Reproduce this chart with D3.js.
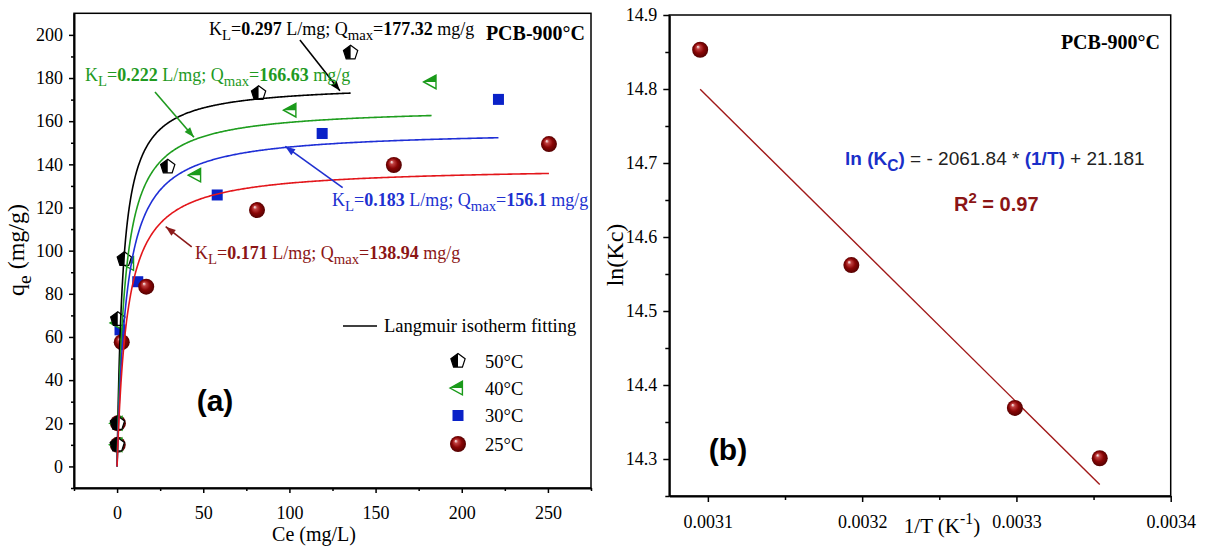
<!DOCTYPE html>
<html>
<head>
<meta charset="utf-8">
<script src="https://cdn.jsdelivr.net/npm/d3@7"></script>
<style>
  html, body { margin: 0; padding: 0; background: #fff; }
  svg { display: block; }
  .serif { font-family: "Liberation Serif", "Times New Roman", Times, serif; }
  .sans { font-family: "Liberation Sans", Arial, Helvetica, sans-serif; }
</style>
</head>
<body>
<svg id="chart" width="1205" height="546"></svg>
<script>
// ---------- Panel (a): Langmuir isotherms of PCB-900°C ----------
const temps = ["50°C", "40°C", "30°C", "25°C"];

// equilibrium concentration Ce (mg/L) and uptake qe (mg/g) per temperature
const ce50 = [0.1, 0.2, 0.4, 4.2, 29.4, 82.1, 135.5];
const qe50 = [10, 20, 68.2, 96, 138.9, 172.9, 191.7];
const ce40 = [0.2, 0.3, 0.6, 7.0, 45.9, 101.2, 182.5];
const qe40 = [10, 20, 66.5, 94, 135, 165.1, 178.2];
const ce30 = [0.3, 0.4, 1.7, 12.0, 58.1, 119.0, 221.3];
const qe30 = [10, 20, 63.3, 85.6, 125.8, 154.3, 170.1];
const ce25 = [0.4, 0.5, 2.7, 16.9, 81.2, 160.6, 250.6];
const qe25 = [10, 20, 57.6, 83.3, 118.8, 139.7, 149.4];

// fitted Langmuir parameters (same order as temps)
const kL = [0.297, 0.222, 0.183, 0.171];
const qMax = [177.32, 166.63, 156.1, 138.94];

const ceTicks = [0, 50, 100, 150, 200, 250];
const ceMinor = [-25, 25, 75, 125, 175, 225, 275];
const qeTicks = [0, 20, 40, 60, 80, 100, 120, 140, 160, 180, 200];
const qeMinor = [-10, 10, 30, 50, 70, 90, 110, 130, 150, 170, 190];

// ---------- Panel (b): van't Hoff plot ----------
const invT = [0.003095, 0.003193, 0.003299, 0.003354];
const lnKc = [14.853, 14.562, 14.369, 14.301];
const vhSlope = -2061.84;
const vhIntercept = 21.181;
const vhR2 = 0.97;
const invTTicks = [0.0031, 0.0032, 0.0033, 0.0034];
const invTMinor = [0.00315, 0.00325, 0.00335];
const lnKcTicks = [14.3, 14.4, 14.5, 14.6, 14.7, 14.8, 14.9];
const lnKcMinor = [14.25, 14.35, 14.45, 14.55, 14.65, 14.75, 14.85];

// ---------- styling ----------
const curveColors = ["#000000", "#1f9e1f", "#1f2fd6", "#e3161b"];
const textColors  = ["#000000", "#1f9a1f", "#2030d0", "#8b1515"];
const markerColors = ["#000000", "#1a9a1a", "#0a22c8", "#8b0000"];

const svg = d3.select("#chart");
const defs = svg.append("defs");

// shaded sphere fill for the 25°C / van't Hoff markers
const grad = defs.append("radialGradient").attr("id", "ball")
  .attr("cx", "50%").attr("cy", "50%").attr("r", "55%")
  .attr("fx", "35%").attr("fy", "30%");
grad.append("stop").attr("offset", "0%").attr("stop-color", "#ffffff");
grad.append("stop").attr("offset", "22%").attr("stop-color", "#c04040");
grad.append("stop").attr("offset", "55%").attr("stop-color", "#8a0606");
grad.append("stop").attr("offset", "100%").attr("stop-color", "#4a0000");

// ---------- scales ----------
const xA = d3.scaleLinear().domain([-25, 275]).range([74, 591]);
const yA = d3.scaleLinear().domain([-10, 210]).range([488, 13.3]);
const xB = d3.scaleLinear().domain([0.003075, 0.0034]).range([669.3, 1170.7]);
const yB = d3.scaleLinear().domain([14.25, 14.9]).range([496, 15]);

// ---------- helpers ----------
function richText(g, x, y, parts, opt) {
  const t = g.append("text").attr("x", x).attr("y", y)
    .attr("class", opt.cls || "serif")
    .attr("font-size", opt.size)
    .attr("fill", opt.color || "#000")
    .attr("text-anchor", opt.anchor || "start");
  if (opt.transform) t.attr("transform", opt.transform);
  let shift = 0;
  parts.forEach(p => {
    const s = t.append("tspan").text(p.t);
    let target = 0;
    if (p.sub) { target = opt.size * 0.3; s.attr("font-size", opt.size * 0.82); }
    if (p.sup) { target = -opt.size * 0.42; s.attr("font-size", opt.size * 0.75); }
    if (target !== shift) { s.attr("dy", target - shift); shift = target; }
    if (p.bold) s.attr("font-weight", "bold");
    if (p.color) s.attr("fill", p.color);
  });
  return t;
}

function arrow(g, x1, y1, x2, y2, color) {
  g.append("line").attr("x1", x1).attr("y1", y1).attr("x2", x2).attr("y2", y2)
    .attr("stroke", color).attr("stroke-width", 1.6);
  const a = Math.atan2(y2 - y1, x2 - x1), L = 10, W = 3.6;
  const bx = x2 - L * Math.cos(a), by = y2 - L * Math.sin(a);
  g.append("path")
    .attr("d", `M${x2},${y2}L${bx + W * Math.sin(a)},${by - W * Math.cos(a)}L${bx - W * Math.sin(a)},${by + W * Math.cos(a)}Z`)
    .attr("fill", color);
}

// markers: half-filled pentagon, half-filled left triangle, square, sphere
function drawMarker(g, kind, cx, cy) {
  const m = g.append("g").attr("transform", `translate(${cx},${cy})`);
  if (kind === 0) {
    const r = 7.5;
    const pts = d3.range(5).map(k => {
      const a = -Math.PI / 2 + k * 2 * Math.PI / 5;
      return [r * Math.cos(a), r * Math.sin(a)];
    });
    m.append("polygon").attr("points", pts.map(p => p.join(",")).join(" "))
      .attr("fill", "#fff").attr("stroke", "#000").attr("stroke-width", 1.2);
    const half = [[0, -r], pts[4], pts[3], [0, pts[3][1]]];
    m.append("polygon").attr("points", half.map(p => p.join(",")).join(" "))
      .attr("fill", "#000");
  } else if (kind === 1) {
    const r = 8, c = markerColors[1];
    const tri = [[-r, 0], [r * 0.55, -r * 0.85], [r * 0.55, r * 0.85]];
    m.append("polygon").attr("points", tri.map(p => p.join(",")).join(" "))
      .attr("fill", "#fff").attr("stroke", c).attr("stroke-width", 1.4);
    const up = [[-r, 0], [r * 0.55, -r * 0.85], [r * 0.55, 0]];
    m.append("polygon").attr("points", up.map(p => p.join(",")).join(" "))
      .attr("fill", c);
  } else if (kind === 2) {
    const s = 11;
    m.append("rect").attr("x", -s / 2).attr("y", -s / 2).attr("width", s).attr("height", s)
      .attr("fill", markerColors[2]);
  } else {
    m.append("circle").attr("r", 8).attr("fill", "url(#ball)");
  }
}

function styleAxis(g, width) {
  g.select(".domain").attr("stroke-width", width);
  g.selectAll(".tick line").attr("stroke-width", 1.5);
  g.selectAll("text").attr("class", "serif").attr("font-size", 18).attr("fill", "#000")
    .attr("font-family", null);
}

// ================= Panel (a) =================
const gA = svg.append("g");

// frame
gA.append("rect").attr("x", xA.range()[0]).attr("y", yA.range()[1])
  .attr("width", xA.range()[1] - xA.range()[0]).attr("height", yA.range()[0] - yA.range()[1])
  .attr("fill", "none").attr("stroke", "#000").attr("stroke-width", 1.5);

const axA_x = gA.append("g").attr("transform", `translate(0,${yA.range()[0]})`)
  .call(d3.axisBottom(xA).tickValues(ceTicks).tickSize(5).tickSizeOuter(0).tickPadding(13).tickFormat(d3.format("d")));
styleAxis(axA_x, 2);
gA.append("g").attr("transform", `translate(0,${yA.range()[0]})`)
  .call(d3.axisBottom(xA).tickValues(ceMinor).tickSize(3).tickSizeOuter(0).tickFormat(""))
  .call(g => g.select(".domain").remove())
  .call(g => g.selectAll(".tick line").attr("stroke-width", 1.5));

const axA_y = gA.append("g").attr("transform", `translate(${xA.range()[0]},0)`)
  .call(d3.axisLeft(yA).tickValues(qeTicks).tickSize(5).tickSizeOuter(0).tickPadding(6).tickFormat(d3.format("d")));
styleAxis(axA_y, 2);
gA.append("g").attr("transform", `translate(${xA.range()[0]},0)`)
  .call(d3.axisLeft(yA).tickValues(qeMinor).tickSize(3).tickSizeOuter(0).tickFormat(""))
  .call(g => g.select(".domain").remove())
  .call(g => g.selectAll(".tick line").attr("stroke-width", 1.5));

// axis titles
richText(gA, 314, 541, [{ t: "Ce (mg/L)" }], { size: 20, anchor: "middle" });
richText(gA, 0, 0, [{ t: "q" }, { t: "e", sub: true }, { t: " (mg/g)" }],
  { size: 24, anchor: "middle", transform: "translate(24,250) rotate(-90)" });

// experimental points (drawn blue, red, green, black)
const ceSets = [ce50, ce40, ce30, ce25];
const qeSets = [qe50, qe40, qe30, qe25];
[2, 3, 1, 0].forEach(i => {
  const g = gA.append("g");
  ceSets[i].forEach((c, j) => drawMarker(g, i, xA(c), yA(qeSets[i][j])));
});

// Langmuir fits q = Qmax*KL*C / (1 + KL*C), drawn over each data range
const line = d3.line().x(d => xA(d[0])).y(d => yA(d[1]));
[0, 1, 2, 3].forEach(i => {
  const cMax = d3.max(ceSets[i]);
  const pts = d3.range(0, 401).map(k => {
    const c = cMax * Math.pow(k / 400, 2);
    return [c, qMax[i] * kL[i] * c / (1 + kL[i] * c)];
  });
  gA.append("path").attr("d", line(pts)).attr("fill", "none")
    .attr("stroke", curveColors[i]).attr("stroke-width", 1.6);
});

// parameter annotations with arrows (tail -> tip, data units)
const arrowTails = [[106.1, 197.6], [22.0, 173.5], [130.9, 129.2], [43.3, 101.8]];
const arrowTips  = [[129.3, 174.1], [44.6, 152.6], [97.6, 148.3], [28.2, 111.1]];
const annoPos = [[209, 35], [85, 81], [332, 206], [195, 259]];
[0, 1, 2, 3].forEach(i => {
  richText(gA, annoPos[i][0], annoPos[i][1], [
    { t: "K" }, { t: "L", sub: true }, { t: "=" }, { t: String(kL[i]), bold: true },
    { t: " L/mg; Q" }, { t: "max", sub: true }, { t: "=" }, { t: String(qMax[i]), bold: true },
    { t: " mg/g" }
  ], { size: 18, color: textColors[i] });
  const ac = i === 3 ? "#8b1a1a" : textColors[i];
  arrow(gA, xA(arrowTails[i][0]), yA(arrowTails[i][1]), xA(arrowTips[i][0]), yA(arrowTips[i][1]), ac);
});

richText(gA, 585, 40, [{ t: "PCB-900°C", bold: true }], { size: 20, anchor: "end" });
richText(gA, 215, 411, [{ t: "(a)", bold: true }], { size: 30, cls: "sans", anchor: "middle" });

// legend
const lg = gA.append("g");
lg.append("line").attr("x1", 343).attr("x2", 377).attr("y1", 326).attr("y2", 326)
  .attr("stroke", "#000").attr("stroke-width", 1.5);
richText(lg, 384, 332, [{ t: "Langmuir isotherm fitting" }], { size: 18.5 });
const legY = [361, 388, 415.5, 444];
[0, 1, 2, 3].forEach(i => {
  drawMarker(lg, i, 458, legY[i]);
  richText(lg, 485, legY[i] + 6.5, [{ t: temps[i] }], { size: 18.5 });
});

// ================= Panel (b) =================
const gB = svg.append("g");
gB.append("rect").attr("x", xB.range()[0]).attr("y", yB.range()[1])
  .attr("width", xB.range()[1] - xB.range()[0]).attr("height", yB.range()[0] - yB.range()[1])
  .attr("fill", "none").attr("stroke", "#000").attr("stroke-width", 1.5);

const axB_x = gB.append("g").attr("transform", `translate(0,${yB.range()[0]})`)
  .call(d3.axisBottom(xB).tickValues(invTTicks).tickSize(6).tickSizeOuter(0).tickPadding(13).tickFormat(d3.format(".4f")));
styleAxis(axB_x, 2);
gB.append("g").attr("transform", `translate(0,${yB.range()[0]})`)
  .call(d3.axisBottom(xB).tickValues(invTMinor).tickSize(4).tickSizeOuter(0).tickFormat(""))
  .call(g => g.select(".domain").remove())
  .call(g => g.selectAll(".tick line").attr("stroke-width", 1.5));

const axB_y = gB.append("g").attr("transform", `translate(${xB.range()[0]},0)`)
  .call(d3.axisLeft(yB).tickValues(lnKcTicks).tickSize(6).tickSizeOuter(0).tickPadding(6).tickFormat(d3.format(".1f")));
styleAxis(axB_y, 2);
gB.append("g").attr("transform", `translate(${xB.range()[0]},0)`)
  .call(d3.axisLeft(yB).tickValues(lnKcMinor).tickSize(4).tickSizeOuter(0).tickFormat(""))
  .call(g => g.select(".domain").remove())
  .call(g => g.selectAll(".tick line").attr("stroke-width", 1.5));

richText(gB, 942, 533, [{ t: "1/T (K" }, { t: "-1", sup: true }, { t: ")" }], { size: 21, anchor: "middle" });
richText(gB, 0, 0, [{ t: "ln(Kc)" }], { size: 24, anchor: "middle", transform: "translate(623,255) rotate(-90)" });

// van't Hoff regression line over the measured 1/T range
const tExt = d3.extent(invT);
gB.append("line")
  .attr("x1", xB(tExt[0])).attr("y1", yB(vhSlope * tExt[0] + vhIntercept))
  .attr("x2", xB(tExt[1])).attr("y2", yB(vhSlope * tExt[1] + vhIntercept))
  .attr("stroke", "#a01818").attr("stroke-width", 1.4);

invT.forEach((t, j) => drawMarker(gB, 3, xB(t), yB(lnKc[j])));

richText(gB, 1160, 49, [{ t: "PCB-900°C", bold: true }], { size: 20, anchor: "end" });
const eqBlue = "#1a2fc8";
richText(gB, 845, 165, [
  { t: "ln (K", bold: true, color: eqBlue }, { t: "C", sub: true, bold: true, color: eqBlue },
  { t: ")", bold: true, color: eqBlue },
  { t: " = - " + Math.abs(vhSlope) + " * " , color: "#222" },
  { t: "(1/T)", bold: true, color: eqBlue },
  { t: " + " + vhIntercept, color: "#222" }
], { size: 19, cls: "sans" });
richText(gB, 954, 211, [
  { t: "R", bold: true }, { t: "2", sup: true, bold: true }, { t: " = " + vhR2.toFixed(2), bold: true }
], { size: 20, cls: "sans", color: "#8b1515" });
richText(gB, 728, 460, [{ t: "(b)", bold: true }], { size: 30, cls: "sans", anchor: "middle" });
</script>
</body>
</html>
